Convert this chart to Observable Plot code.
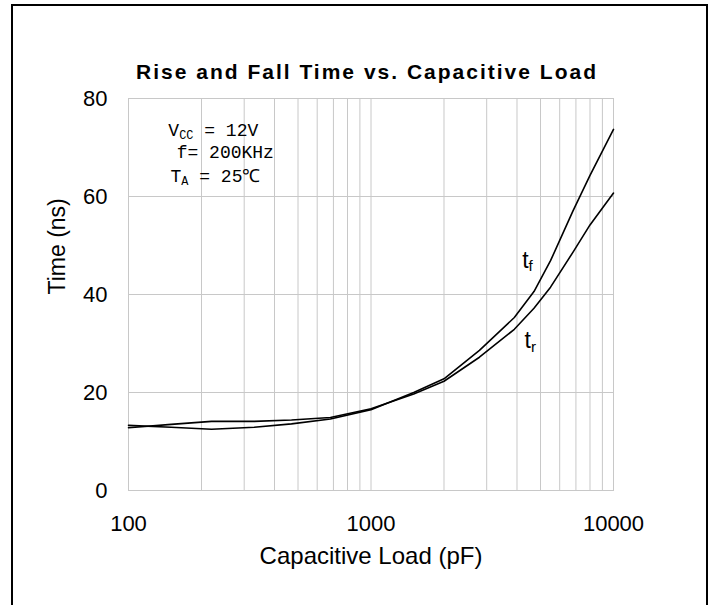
<!DOCTYPE html>
<html>
<head>
<meta charset="utf-8">
<script src="https://cdn.jsdelivr.net/npm/d3@7"></script>
<script src="https://cdn.jsdelivr.net/npm/@observablehq/plot@0.6"></script>
<style>
  html, body { margin: 0; padding: 0; background: #fff; }
  #border { position: absolute; left: 11px; top: 4px; width: 693px; height: 700px; border: 2px solid #000; box-sizing: content-box; }
  #chart { position: absolute; left: 0; top: 0; }
</style>
</head>
<body>
<div id="border"></div>
<div id="chart"></div>
<script>
// ---- data ----
const capacitance = [100, 150, 220, 330, 470, 680, 1000, 1500, 2000, 2800, 3900, 4700, 5500, 6800, 8000, 10000];
const fallTime    = [13.3, 12.9, 12.5, 12.9, 13.6, 14.6, 16.5, 20.0, 22.8, 28.6, 35.3, 40.6, 46.9, 57.0, 64.3, 73.7];
const riseTime    = [12.8, 13.5, 14.1, 14.1, 14.4, 14.9, 16.7, 19.7, 22.3, 27.2, 32.9, 37.2, 41.5, 48.6, 54.2, 60.7];

const xTickLabels = [100, 1000, 10000];
const xGridValues = [100, 200, 300, 400, 500, 600, 700, 800, 900, 1000, 2000, 3000, 4000, 5000, 6000, 7000, 8000, 9000, 10000];
const yTickLabels = [0, 20, 40, 60, 80];

const titleText = ["Rise and Fall Time vs. Capacitive Load"];
const xLabel = ["Capacitive Load (pF)"];
const yLabel = ["Time (ns)"];

// condition annotations (position in data units: pF, ns)
const condLabels = ["V_{CC} = 12V", "f= 200KHz", "T_{A} = 25℃"];
const condX = [146, 158, 149];
const condY = [72.4, 67.8, 62.9];

// curve labels
const curveLabels = ["t_{f}", "t_{r}"];
const curveLabelX = [4200, 4300];
const curveLabelY = [45.5, 29.0];

// ---- tables built from the arrays ----
const fallData = capacitance.map((c, i) => ({c, t: fallTime[i]}));
const riseData = capacitance.map((c, i) => ({c, t: riseTime[i]}));
const conds = condLabels.map((s, i) => ({s, x: condX[i], y: condY[i]}));
const curves = curveLabels.map((s, i) => ({s, x: curveLabelX[i], y: curveLabelY[i]}));

const grid = "#c8c8c8";
const sans = "'Liberation Sans', Arial, sans-serif";

const chart = Plot.plot({
  width: 714,
  height: 605,
  marginLeft: 128,
  marginRight: 101,
  marginTop: 98,
  marginBottom: 115,
  style: { fontFamily: sans, background: "transparent", color: "#000" },
  x: { type: "log", domain: [100, 10000] },
  y: { domain: [0, 80] },
  marks: [
    Plot.gridX(xGridValues, { stroke: grid, strokeOpacity: 1, strokeWidth: 1 }),
    Plot.gridY(yTickLabels, { stroke: grid, strokeOpacity: 1, strokeWidth: 1 }),
    Plot.frame({ stroke: grid, strokeWidth: 1 }),
    Plot.axisX(xTickLabels, { tickSize: 0, tickPadding: 25, fontSize: 22, tickFormat: d => String(d), label: null }),
    Plot.axisY(yTickLabels, { tickSize: 0, tickPadding: 21, fontSize: 22, label: null }),
    Plot.line(riseData, { x: "c", y: "t", stroke: "#000", strokeWidth: 1.6 }),
    Plot.line(fallData, { x: "c", y: "t", stroke: "#000", strokeWidth: 1.6 }),
    Plot.text(curves, { x: "x", y: "y", text: "s", textAnchor: "start", lineAnchor: "bottom", fontSize: 23, fill: "#000", className: "sublabel" }),
    Plot.text(conds, { x: "x", y: "y", text: "s", textAnchor: "start", lineAnchor: "bottom", fontSize: 18, fontFamily: "'Liberation Mono', 'DejaVu Sans Mono', monospace", fill: "#000", className: "sublabel" }),
    Plot.text(titleText, { frameAnchor: "top", dy: -34, dx: -4, fontSize: 21, fontWeight: "bold", fill: "#000", className: "title" }),
    Plot.text(xLabel, { frameAnchor: "bottom", dy: 73, fontSize: 24, fill: "#000" }),
    Plot.text(yLabel, { frameAnchor: "left", dx: -71, rotate: -90, fontSize: 23, fill: "#000" })
  ]
});

document.getElementById("chart").appendChild(chart);

// letter spacing for the title
d3.select(chart).selectAll("g.title text").style("letter-spacing", "2px");

// turn "_{..}" into real subscripts
d3.select(chart).selectAll("g.sublabel text").each(function () {
  const s = this.textContent;
  const parts = s.split(/(_\{[^}]*\})/).filter(p => p.length);
  const el = d3.select(this);
  el.text(null);
  let shifted = false;
  for (const p of parts) {
    const m = p.match(/^_\{([^}]*)\}$/);
    if (m) {
      el.append("tspan").attr("dy", "0.25em").attr("font-size", "0.66em").text(m[1]);
      shifted = true;
    } else {
      const t = el.append("tspan").text(p).style("white-space", "pre");
      if (shifted) { t.attr("dy", "-0.165em"); shifted = false; }
    }
  }
});
d3.select(chart).selectAll("g.sublabel text").style("white-space", "pre");
</script>
</body>
</html>
